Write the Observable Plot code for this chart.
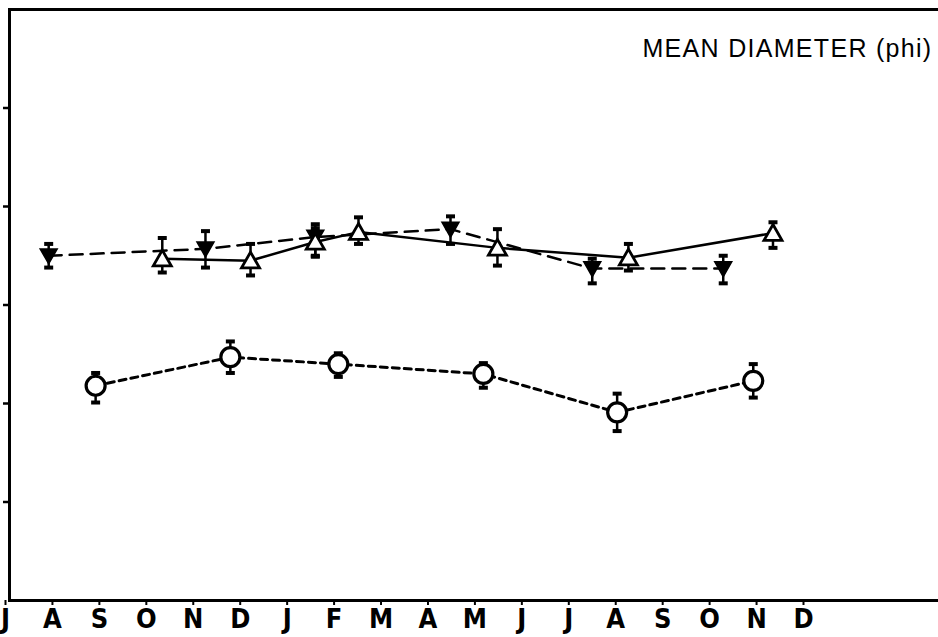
<!DOCTYPE html>
<html>
<head>
<meta charset="utf-8">
<script src="https://cdn.jsdelivr.net/npm/d3@7"></script>
<script src="https://cdn.jsdelivr.net/npm/@observablehq/plot@0.6"></script>
<style>
  html, body { margin: 0; padding: 0; background: #fff; }
  #chart svg { display: block; }
</style>
</head>
<body>
<div id="chart"></div>
<script>
// Month labels along the time axis (two consecutive years, July to December)
const months = ["J","A","S","O","N","D","J","F","M","A","M","J","J","A","S","O","N","D"];
const monthTicks = d3.range(months.length);
const yTicks = [1, 2, 3, 4, 5];
const title = "MEAN DIAMETER (phi)";

// Series 1: filled down-triangles, long-dashed line
const filledMonth = [0.92, 4.26, 6.60, 9.48, 12.50, 15.29];
const filledMean  = [3.50, 3.57, 3.69, 3.77, 3.37, 3.37];
const filledLow   = [3.38, 3.38, 3.50, 3.62, 3.22, 3.22];
const filledHigh  = [3.62, 3.75, 3.82, 3.90, 3.47, 3.50];

// Series 2: open up-triangles, solid line
const openMonth = [3.34, 5.22, 6.60, 7.52, 10.48, 13.27, 16.35];
const openMean  = [3.47, 3.45, 3.64, 3.74, 3.58, 3.48, 3.73];
const openLow   = [3.33, 3.30, 3.49, 3.62, 3.40, 3.35, 3.58];
const openHigh  = [3.68, 3.62, 3.78, 3.89, 3.77, 3.62, 3.84];

// Series 3: open circles, short-dashed line
const circleMonth = [1.92, 4.79, 7.09, 10.18, 13.03, 15.93];
const circleMean  = [2.18, 2.47, 2.40, 2.30, 1.91, 2.23];
const circleLow   = [2.01, 2.31, 2.27, 2.16, 1.72, 2.06];
const circleHigh  = [2.31, 2.63, 2.51, 2.41, 2.10, 2.40];

const rows = (month, mean, low, high) =>
  month.map((m, i) => ({month: m, mean: mean[i], low: low[i], high: high[i]}));

const filled = rows(filledMonth, filledMean, filledLow, filledHigh);
const open = rows(openMonth, openMean, openLow, openHigh);
const circles = rows(circleMonth, circleMean, circleLow, circleHigh);

// Custom symbols
const cap = {draw(ctx, size) { const w = Math.sqrt(size / Math.PI); ctx.moveTo(-w, 0); ctx.lineTo(w, 0); }};
const triDown = {draw(ctx, size) {
  const r = Math.sqrt(size / Math.PI);
  ctx.moveTo(-r, -r * 0.8); ctx.lineTo(r, -r * 0.8); ctx.lineTo(0, r * 0.95); ctx.closePath();
}};
const triUp = {draw(ctx, size) {
  const r = Math.sqrt(size / Math.PI);
  ctx.moveTo(0, -r * 0.95); ctx.lineTo(r, r * 0.8); ctx.lineTo(-r, r * 0.8); ctx.closePath();
}};

function errorBars(data) {
  return [
    Plot.ruleX(data, {x: "month", y1: "low", y2: "high", stroke: "black", strokeWidth: 2.5}),
    Plot.dot(data, {x: "month", y: "low", symbol: cap, r: 4.5, stroke: "black", strokeWidth: 4}),
    Plot.dot(data, {x: "month", y: "high", symbol: cap, r: 4.5, stroke: "black", strokeWidth: 4})
  ];
}

const chart = Plot.plot({
  width: 938,
  height: 637,
  marginLeft: 9,
  marginTop: 9,
  marginRight: -4,
  marginBottom: 37,
  style: {background: "#fff", color: "black", overflow: "hidden"},
  x: {domain: [0, 17], range: [5, 803]},
  y: {domain: [0, 6]},
  marks: [
    Plot.axisY({ticks: yTicks, tickSize: 6, tickFormat: () => "", strokeWidth: 2.5, label: null}),
    Plot.axisX({
      ticks: monthTicks, tickSize: 5, tickPadding: 3, strokeWidth: 2,
      tickFormat: (i) => months[i], label: null,
      fontSize: 27, fontWeight: "bold", fontFamily: "'Liberation Sans Narrow', 'DejaVu Sans Condensed', sans-serif"
    }),
    ...errorBars(filled),
    ...errorBars(open),
    ...errorBars(circles),
    Plot.line(filled, {x: "month", y: "mean", stroke: "black", strokeWidth: 2.5, strokeDasharray: "13,8"}),
    Plot.line(open, {x: "month", y: "mean", stroke: "black", strokeWidth: 2.5}),
    Plot.line(circles, {x: "month", y: "mean", stroke: "black", strokeWidth: 3, strokeDasharray: "7,5"}),
    Plot.dot(filled, {x: "month", y: "mean", symbol: triDown, r: 8.5, fill: "black", stroke: "black", strokeWidth: 1.5}),
    Plot.dot(open, {x: "month", y: "mean", symbol: triUp, r: 9, fill: "white", stroke: "black", strokeWidth: 2.8}),
    Plot.dot(circles, {x: "month", y: "mean", symbol: "circle", r: 9.5, fill: "white", stroke: "black", strokeWidth: 3.2}),
    Plot.frame({stroke: "black", strokeWidth: 3}),
    Plot.text([title], {
      frameAnchor: "top-right", dx: -10, dy: 39, textAnchor: "end", lineAnchor: "middle",
      fontSize: 25, fontFamily: "'Liberation Sans', Arial, sans-serif", fill: "black"
    })
  ]
});

const titleGroup = chart.querySelector('g[aria-label="text"]');
if (titleGroup) titleGroup.setAttribute("letter-spacing", "1.3");

document.getElementById("chart").appendChild(chart);
</script>
</body>
</html>
